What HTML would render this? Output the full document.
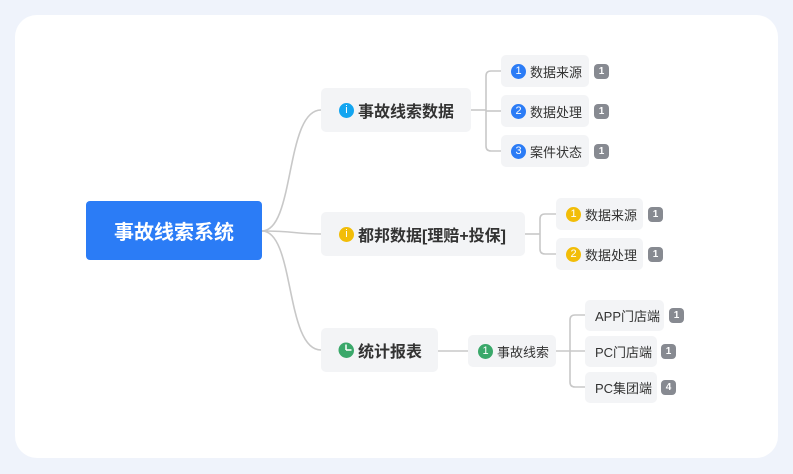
<!DOCTYPE html>
<html><head><meta charset="utf-8"><style>
body{margin:0;width:793px;height:474px;background:#eff3fb;position:relative;overflow:hidden;font-family:"Liberation Sans","Noto Sans CJK SC",sans-serif;}
.card{position:absolute;left:15px;top:15px;width:763px;height:443px;background:#fff;border-radius:22px;}
.n{position:absolute;background:#f3f4f6;border-radius:5px;display:flex;align-items:center;box-sizing:border-box;color:#333;white-space:nowrap}
.b{font-weight:bold;font-size:16px;padding-left:18px}
.l{font-size:13px;padding-left:10px}
.ic{display:inline-block;width:15px;height:15px;border-radius:50%;color:#fff;font-size:11px;line-height:15px;text-align:center;margin-right:4px;font-weight:normal}
.bd{position:absolute;width:15px;height:15px;border-radius:4px;background:#878a91;color:#fff;font-size:10px;line-height:15px;text-align:center;font-weight:bold}
</style></head><body>
<div class="card"></div>
<svg width="793" height="474" style="position:absolute;left:0;top:0" fill="none" stroke="#c8c8c8" stroke-width="1.6">
<path d="M262,231 C295,231 285,110 321,110"/>
<path d="M262,231 C295,231 295,234 321,234"/>
<path d="M262,231 C295,231 285,350 321,350"/>
<path d="M471,110 H486"/><path d="M501,71 H491 Q486,71 486,76 V146 Q486,151 491,151 H501"/><path d="M486,111 H501"/>
<path d="M525,234 H540"/><path d="M556,214 H545 Q540,214 540,219 V249 Q540,254 545,254 H556"/>
<path d="M438,351 H468"/><path d="M556,351 H585"/><path d="M585,315 H575 Q570,315 570,320 V382 Q570,387 575,387 H585"/>
</svg>
<div class="n" style="left:86px;top:201px;width:176px;height:59px;background:#2b7cf6;color:#fff;font-weight:bold;font-size:20px;justify-content:center;border-radius:4px">事故线索系统</div>
<div class="n b" style="left:321px;top:88px;width:150px;height:44px"><span class="ic" style="background:#13a5f0">i</span>事故线索数据</div>
<div class="n b" style="left:321px;top:212px;width:204px;height:44px"><span class="ic" style="background:#f2bd08">i</span>都邦数据[理赔+投保]</div>
<div class="n b" style="left:321px;top:328px;width:117px;height:44px"><span class="ic" style="background:conic-gradient(#fff 0 25%,#3aa86a 25% 100%);border:0 solid;box-shadow:0 0 0 0 #3aa86a;background:#3aa86a;position:relative"></span>统计报表</div>
<div class="n l" style="left:501px;top:55px;width:88px;height:32px"><span class="ic" style="background:#2b7cf6">1</span>数据来源</div>
<div class="n l" style="left:501px;top:95px;width:88px;height:32px"><span class="ic" style="background:#2b7cf6">2</span>数据处理</div>
<div class="n l" style="left:501px;top:135px;width:88px;height:32px"><span class="ic" style="background:#2b7cf6">3</span>案件状态</div>
<div class="bd" style="left:594px;top:64px">1</div><div class="bd" style="left:594px;top:104px">1</div><div class="bd" style="left:594px;top:144px">1</div>
<div class="n l" style="left:556px;top:198px;width:87px;height:32px"><span class="ic" style="background:#f2bd08">1</span>数据来源</div>
<div class="n l" style="left:556px;top:238px;width:87px;height:32px"><span class="ic" style="background:#f2bd08">2</span>数据处理</div>
<div class="bd" style="left:648px;top:207px">1</div><div class="bd" style="left:648px;top:247px">1</div>
<div class="n l" style="left:468px;top:335px;width:88px;height:32px"><span class="ic" style="background:#3aa86a">1</span>事故线索</div>
<div class="n l" style="left:585px;top:300px;width:79px;height:31px">APP门店端</div>
<div class="n l" style="left:585px;top:336px;width:72px;height:31px">PC门店端</div>
<div class="n l" style="left:585px;top:372px;width:72px;height:31px">PC集团端</div>
<div class="bd" style="left:669px;top:308px">1</div><div class="bd" style="left:661px;top:344px">1</div><div class="bd" style="left:661px;top:380px">4</div>
<svg width="16" height="16" style="position:absolute;left:338px;top:342px"><circle cx="8" cy="8" r="7.5" fill="#3aa86a"/><path d="M8,8 V2.5 M8,8 H13.5" stroke="#fff" stroke-width="1.5"/></svg>
</body></html>
